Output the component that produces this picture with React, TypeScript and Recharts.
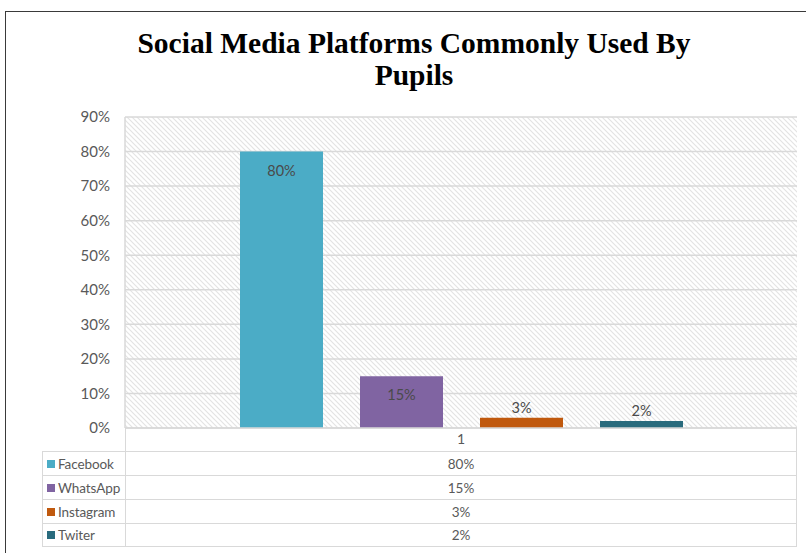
import React from "react";
import { Bar, BarChart, CartesianGrid, LabelList, XAxis, YAxis } from "recharts";

const categories = ["1"];
const platforms = ["Facebook", "WhatsApp", "Instagram", "Twiter"];
const shares = [80, 15, 3, 2];
const colors = ["#4BACC6", "#8064A2", "#C0590E", "#296B7D"];
const yTicks = [0, 10, 20, 30, 40, 50, 60, 70, 80, 90];

const data = categories.map((c) => {
    const row: Record<string, string | number> = { cat: c };
    platforms.forEach((p, i) => (row[p] = shares[i]));
    return row;
});

const font = "Lato, 'Open Sans', sans-serif";
const grid = "#d9d9d9";

const renderLabel = (props: any) => {
    const { x, y, width, height, value } = props;
    const inside = height > 30;
    return (
        <text
            x={x + width / 2}
            y={inside ? y + 24 : y - 5}
            textAnchor="middle"
            fill="#4a4a4a"
            fontSize={14.5}
            fontFamily={font}
        >
            {value}%
        </text>
    );
};

export default function App() {
    return (
        <div style={{ position: "absolute", left: 0, top: 0, width: 806, height: 553, overflow: "hidden", background: "#fff" }}>
            <div style={{ position: "absolute", left: 5, top: 11, width: 900, height: 700, border: "1px solid #3a3a3a" }} />
            <div
                style={{
                    position: "absolute",
                    left: 0,
                    top: 27,
                    width: 828,
                    textAlign: "center",
                    fontFamily: "'Liberation Serif', 'Times New Roman', serif",
                    fontWeight: "bold",
                    fontSize: 29.5,
                    lineHeight: "32px",
                    color: "#000",
                }}
            >
                Social Media Platforms Commonly Used By
                <br />
                Pupils
            </div>
            <div style={{ position: "absolute", left: 0, top: 0 }}>
                <BarChart
                    width={806}
                    height={553}
                    data={data}
                    margin={{ top: 117, right: 9, bottom: 102, left: 65 }}
                    barSize={83}
                    barGap={37}
                >
                    <defs>
                        <pattern id="hatch" width={5} height={5} patternUnits="userSpaceOnUse">
                            <rect width={5} height={5} fill="#fff" />
                            <path d="M0,0 L5,5 M-1,4 L1,6 M4,-1 L6,1" stroke="#e3e3e3" strokeWidth={1.1} />
                        </pattern>
                    </defs>
                    <CartesianGrid vertical={false} stroke={grid} strokeWidth={1.5} fill="url(#hatch)" fillOpacity={1} />
                    <XAxis
                        dataKey="cat"
                        height={23}
                        tickLine={false}
                        tickSize={0}
                        tickMargin={6}
                        axisLine={{ stroke: grid, strokeWidth: 1.5 }}
                        tick={{ fill: "#595959", fontSize: 14, fontFamily: font }}
                    />
                    <YAxis
                        width={60}
                        domain={[0, 90]}
                        ticks={yTicks}
                        tickFormatter={(v) => `${v}%`}
                        tickLine={false}
                        tickSize={0}
                        tickMargin={15}
                        axisLine={{ stroke: grid, strokeWidth: 1.5 }}
                        tick={{ fill: "#595959", fontSize: 15, fontFamily: font }}
                    />
                    <YAxis
                        yAxisId="r"
                        orientation="right"
                        width={0}
                        tick={false}
                        tickLine={false}
                        axisLine={{ stroke: grid, strokeWidth: 1.5 }}
                    />
                    {platforms.map((p, i) => (
                        <Bar key={p} dataKey={p} fill={colors[i]} isAnimationActive={false}>
                            <LabelList dataKey={p} content={renderLabel} />
                        </Bar>
                    ))}
                </BarChart>
            </div>
            {/* data table under the plot */}
            <div style={{ position: "absolute", left: 42, top: 428, width: 755, fontFamily: font, fontSize: 13.5, color: "#595959" }}>
                <div style={{ display: "flex", height: 23 }}>
                    <div style={{ width: 83 }} />
                    <div style={{ flex: 1, borderLeft: `1.5px solid ${grid}`, borderRight: `1.5px solid ${grid}` }} />
                </div>
                {platforms.map((p, i) => (
                    <div
                        key={p}
                        style={{
                            display: "flex",
                            height: 24,
                            borderTop: `1.5px solid ${grid}`,
                            borderBottom: i === platforms.length - 1 ? `1.5px solid ${grid}` : undefined,
                            borderLeft: `1.5px solid ${grid}`,
                            borderRight: `1.5px solid ${grid}`,
                            boxSizing: "border-box",
                        }}
                    >
                        <div
                            style={{
                                width: 82,
                                display: "flex",
                                alignItems: "center",
                                borderRight: `1.5px solid ${grid}`,
                                whiteSpace: "nowrap",
                            }}
                        >
                            <span style={{ flex: "none", width: 8, height: 8, background: colors[i], marginLeft: 4, marginRight: 3 }} />
                            <span style={{ letterSpacing: -0.1 }}>{p}</span>
                        </div>
                        <div style={{ flex: 1, display: "flex", alignItems: "center", justifyContent: "center" }}>{shares[i]}%</div>
                    </div>
                ))}
            </div>
        </div>
    );
}
